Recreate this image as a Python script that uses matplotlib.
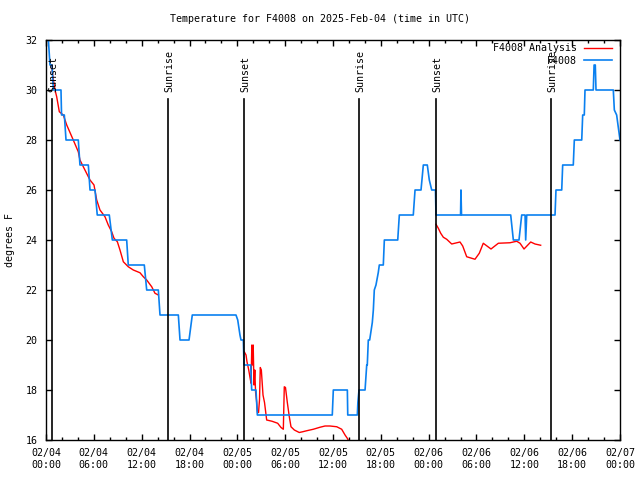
import matplotlib
matplotlib.use("Agg")
import matplotlib.pyplot as plt
from matplotlib.ticker import MultipleLocator

plt.rcParams['font.family'] = 'DejaVu Sans Mono'
plt.rcParams['font.size'] = 7.2

# hours since 2025-02-04 00:00 UTC
obs_hours = [0.2, 0.5, 0.75, 0.92, 1.88, 1.95, 2.30, 2.51, 4.05, 4.26, 5.31, 5.52, 6.15, 6.43,
             7.94, 8.32, 10.12, 10.32, 12.33, 12.63, 14.09, 14.30, 16.60, 16.81, 17.94, 18.35,
             23.83, 24.05, 24.33, 24.46, 24.75, 24.84, 25.68, 25.80, 26.34, 26.51, 35.91, 36.04,
             37.80, 37.85, 39.05, 39.12, 39.26, 40.02, 40.23, 40.30, 40.43, 40.60, 40.93, 41.06,
             41.18, 41.39, 41.68, 41.81, 42.31, 42.44, 44.12, 44.32, 46.07, 46.29, 47.04, 47.33,
             47.83, 48.08, 48.38, 48.85, 48.92, 52.00, 52.05, 52.12, 58.29, 58.62, 59.33, 59.67,
             60.09, 60.17, 60.30, 63.85, 63.97, 64.69, 64.81, 66.14, 66.27, 67.20, 67.32, 67.52,
             67.61, 68.65, 68.75, 68.90, 68.99, 71.16, 71.29, 71.58, 71.79, 72.0]
obs_temp = [32.5, 31, 31, 30, 30, 29, 29, 28, 28, 27, 27, 26, 26, 25,
            25, 24, 24, 23, 23, 22, 22, 21, 21, 20, 20, 21,
            21, 20.8, 20.2, 20, 20, 19, 19, 18, 18, 17, 17, 18,
            18, 17, 17, 17.5, 18, 18, 19, 19, 20, 20, 20.7, 21.2,
            22, 22.2, 22.7, 23, 23, 24, 24, 25, 25, 26, 26, 27,
            27, 26.4, 26, 26, 25, 25, 26, 25, 25, 24, 24, 25,
            25, 24, 25, 25, 26, 26, 27, 27, 28, 28, 29, 29,
            30, 30, 31, 31, 30, 30, 29.2, 29, 28.5, 28]

ana1_hours = [0.69, 0.88, 1.13, 1.34, 1.67, 2.17, 2.60, 3.01, 3.42, 4.05, 4.26, 4.68, 5.31, 5.52,
              6.02, 6.36, 6.77, 7.40, 7.81, 8.24, 8.53, 8.95, 9.28, 9.70, 10.32, 10.95, 11.79,
              12.21, 12.63, 13.26, 13.67, 14.09]
ana1_temp = [31.0, 30.5, 30.0, 29.73, 29.13, 29.0, 28.6, 28.3, 28.0, 27.53, 27.2, 26.93, 26.53, 26.4,
             26.2, 25.6, 25.2, 24.93, 24.6, 24.33, 24.07, 23.93, 23.6, 23.13, 22.93, 22.8, 22.69,
             22.53, 22.4, 22.13, 21.87, 21.8]

ana2_hours = [24.87, 25.09, 25.21, 25.43, 25.59, 25.72, 25.82, 25.92, 25.99, 26.09, 26.19, 26.29,
              26.40, 26.53, 26.66, 26.78, 26.88, 27.01, 27.22, 27.41, 27.68, 28.35, 29.06, 29.48,
              29.77, 29.89, 30.04, 30.27, 30.52, 30.73, 31.15, 31.77, 32.20, 32.70, 33.53, 34.37,
              35.00, 35.62, 36.47, 37.09, 37.51, 37.79, 38.07]
ana2_temp = [19.53, 19.4, 19.13, 18.8, 18.5, 18.27, 19.8, 19.0, 19.8, 18.2, 18.8, 17.9,
             17.6, 17.1, 17.1, 17.6, 18.9, 18.8, 17.8, 17.5, 16.8, 16.75, 16.67, 16.5,
             16.43, 18.13, 18.1, 17.5, 16.93, 16.53, 16.4, 16.3, 16.33, 16.37, 16.43, 16.51,
             16.56, 16.56, 16.53, 16.43, 16.2, 16.07, 15.9]

ana3_hours = [48.92, 49.21, 49.51, 49.84, 50.26, 50.89, 51.93, 52.27, 52.77, 53.81, 54.35, 54.85,
              55.82, 56.74, 58.20, 59.04, 59.46, 59.96, 60.80, 61.34, 62.05]
ana3_temp = [24.63, 24.47, 24.27, 24.11, 24.03, 23.84, 23.92, 23.76, 23.33, 23.23, 23.47, 23.87,
             23.64, 23.87, 23.89, 23.95, 23.87, 23.64, 23.92, 23.84, 23.79]

sun_hours = [0.75, 15.30, 24.84, 39.26, 48.92, 63.35]
sun_labels = ['Sunset', 'Sunrise', 'Sunset', 'Sunrise', 'Sunset', 'Sunrise']

tick_hours = list(range(0, 73, 6))
tick_labels = ['02/04\n00:00', '02/04\n06:00', '02/04\n12:00', '02/04\n18:00',
               '02/05\n00:00', '02/05\n06:00', '02/05\n12:00', '02/05\n18:00',
               '02/06\n00:00', '02/06\n06:00', '02/06\n12:00', '02/06\n18:00',
               '02/07\n00:00']

fig = plt.figure(figsize=(6.4, 4.8), dpi=100)
ax = fig.add_axes([46/640, 40/480, 574/640, 400/480])

red = '#ff0000'
blue = '#0a80f0'

ax.plot(ana1_hours, ana1_temp, color=red, lw=1.0, label='F4008 Analysis')
ax.plot(ana2_hours, ana2_temp, color=red, lw=1.0)
ax.plot(ana3_hours, ana3_temp, color=red, lw=1.0)
ax.plot(obs_hours, obs_temp, color=blue, lw=1.2, label='F4008')

for h, lab in zip(sun_hours, sun_labels):
    ax.plot([h, h], [16, 29.65], color='black', lw=1.2)
    ax.text(h + 0.15, 29.92, lab, rotation=90, ha='center', va='bottom', fontsize=7.2)

ax.set_xlim(0, 72)
ax.set_ylim(16, 32)
ax.set_xticks(tick_hours)
ax.set_xticklabels(tick_labels)
ax.xaxis.set_minor_locator(MultipleLocator(2))
ax.set_yticks(range(16, 33, 2))
ax.tick_params(which='both', direction='in', top=True, right=True, width=1)
ax.tick_params(which='major', length=4, pad=6)
ax.tick_params(which='minor', length=2.2)
for s in ax.spines.values():
    s.set_linewidth(1)

ax.set_ylabel('degrees F', labelpad=8)
fig.text(0.5, 1 - 19/480, 'Temperature for F4008 on 2025-Feb-04 (time in UTC)',
         ha='center', va='center', fontsize=7.2)

ax.legend(loc='upper right', bbox_to_anchor=(612/640, 1 - 43/480),
          bbox_transform=fig.transFigure, frameon=False, markerfirst=False,
          borderaxespad=0, borderpad=0, handlelength=2.8, handletextpad=0.7,
          labelspacing=0.25, fontsize=7.2)

plt.savefig('out.png', dpi=100)
